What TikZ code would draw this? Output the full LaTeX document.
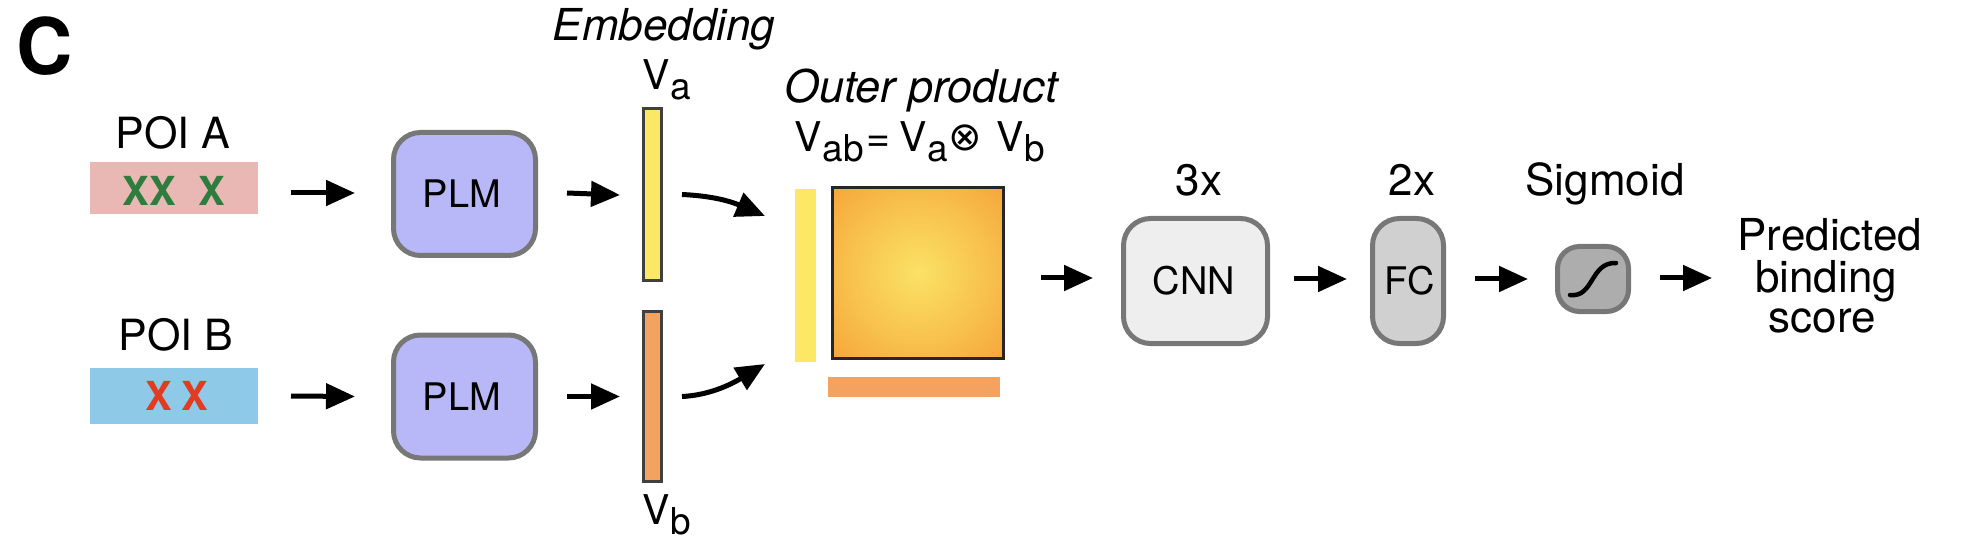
\documentclass[tikz,border=0pt]{standalone}
\usepackage{fontspec}
\setmainfont{TeX Gyre Heros}
\newfontfamily\symfont{DejaVu Sans}
\usetikzlibrary{arrows.meta,calc}
\definecolor{barpink}{HTML}{E9B8B5}
\definecolor{barblue}{HTML}{8EC9E8}
\definecolor{xgreen}{HTML}{2E7D3F}
\definecolor{xred}{HTML}{E23B1F}
\definecolor{plmfill}{HTML}{B8B8F8}
\definecolor{boxline}{HTML}{777777}
\definecolor{vyellow}{HTML}{FDE866}
\definecolor{vorange}{HTML}{F4A25F}
\definecolor{cnnfill}{HTML}{EEEEEE}
\definecolor{fcfill}{HTML}{D0D0D0}
\definecolor{sigfill}{HTML}{ADADAD}
\pgfdeclareradialshading{outerprod}{\pgfpoint{0bp}{0bp}}{%
  rgb(0bp)=(0.984,0.882,0.400);
  rgb(12bp)=(0.973,0.780,0.315);
  rgb(25bp)=(0.961,0.650,0.225);
  rgb(36bp)=(0.945,0.540,0.150);
  rgb(50bp)=(0.945,0.540,0.150)}
\newcommand{\fs}[1]{\fontsize{#1}{#1}\selectfont}
\newcommand{\VV}[1]{{\fs{41}V\kern1pt\raisebox{-10pt}{\fs{37}#1}}}
\tikzset{
  x=1pt,y=-1pt,
  txt/.style={inner sep=0pt,outer sep=0pt,anchor=base,font=\fs{44}},
  seqbar/.style={draw=none,inner sep=0pt,outer sep=0pt,minimum width=168pt},
  mark x/.style={inner sep=0pt,outer sep=0pt,anchor=base,font=\fs{40}\bfseries},
  block/.style={draw=boxline,line width=5pt,rounded corners=27pt,inner sep=0pt,outer sep=2.5pt,font=\fs{38}},
  vecbar/.style={draw=black!75,line width=3pt,inner sep=0pt,outer sep=1.5pt,minimum width=18pt},
  arr/.style={line width=5pt,-{Triangle[length=29pt,width=25pt]}},
  carr/.style={line width=5pt,-{Triangle[length=29pt,width=25pt]}},
}
\begin{document}
\begin{tikzpicture}
\useasboundingbox (0,0) rectangle (1966,540);
\node[inner sep=0pt,anchor=base,font=\fs{78}\bfseries] (panel) at (44.5,75) {C};

% sequences
\node[txt,font=\fs{43}] (poia) at (173,149) {POI A};
\node[seqbar,fill=barpink,minimum height=52pt] (seqa) at (174,188) {};
\node[mark x,text=xgreen] (xa) at (174,206) {XX\kern23pt X};
\node[txt,font=\fs{43}] (poib) at (176,350) {POI B};
\node[seqbar,fill=barblue,minimum height=56pt] (seqb) at (174,396) {};
\node[mark x,text=xred] (xb) at (177,410) {X\kern9pt X};

% PLM
\node[block,fill=plmfill,minimum width=142pt,minimum height=123pt] (plma) at (464.5,194) {\hspace*{-5pt}PLM};
\node[block,fill=plmfill,minimum width=142pt,minimum height=123pt] (plmb) at (464.5,396.5) {\hspace*{-5pt}PLM};

% embeddings
\node[vecbar,fill=vyellow,minimum height=172pt] (va) at (652.5,194.5) {};
\node[vecbar,fill=vorange,minimum height=170pt] (vb) at (652.5,396.5) {};
\node[txt,font=\fs{44}\itshape] (emb) at (664,41) {Embedding};
\node[inner sep=0pt,anchor=base west] (vala) at (642,90) {\VV{a}};
\node[inner sep=0pt,anchor=base west] (vbla) at (642,524) {\VV{b}};

% outer product
\node[txt,font=\fs{45}\itshape] (outer) at (921,103) {Outer product};
\node[inner sep=0pt,anchor=base west] (formula) at (794,152) {\VV{ab}\kern3pt{\fs{41}=}\kern9pt\VV{a}\kern0pt\raisebox{1pt}{\symfont\fs{40}⊗}\kern14pt\VV{b}};
\node[inner sep=0pt,outer sep=0pt,minimum width=21pt,minimum height=173pt,fill=vyellow] (ya) at (805.5,275.5) {};
\begin{scope}
\clip (832.5,187.5) rectangle (1003.5,358.5);
\shade[shading=outerprod] (918,273) circle[radius=121.6];
\end{scope}
\node[draw=black!85,line width=3pt,inner sep=0pt,outer sep=1.5pt,minimum width=171pt,minimum height=171pt] (mat) at (918,273) {};
\node[inner sep=0pt,outer sep=0pt,minimum width=172pt,minimum height=20pt,fill=vorange] (ob) at (914,387) {};

% network
\node[txt] (three) at (1199,196) {3x};
\node[block,fill=cnnfill,minimum width=144pt,minimum height=125pt] (cnn) at (1195.5,281) {\hspace*{-3pt}CNN};
\node[txt] (two) at (1412,196) {2x};
\node[block,fill=fcfill,minimum width=71pt,minimum height=125pt] (fc) at (1408,281) {\hspace*{4pt}FC};
\node[txt] (sigl) at (1605,196) {Sigmoid};
\node[block,fill=sigfill,rounded corners=22pt,minimum width=71pt,minimum height=65pt] (sig) at (1593,279) {};
\draw[line width=4.5pt,line cap=round] (1570,295) .. controls (1594,298) and (1590,262) .. (1616,263);
\node[txt] (p1) at (1830,251) {Predicted};
\node[txt] (p2) at (1826,292) {binding};
\node[txt] (p3) at (1822.5,332) {score};
\coordinate (res) at (1712,278);

% connectors
\draw[arr] ([shift={(33pt,-5pt)}]seqa.east) -- ([shift={(-36pt,1pt)}]plma.west);
\draw[arr] ([xshift=33pt]seqb.east) -- ([xshift=-36pt]plmb.west);
\draw[arr] ([shift={(29pt,1pt)}]plma.east) -- ([shift={(-22pt,-0.5pt)}]va.west);
\draw[arr] ([xshift=29pt]plmb.east) -- ([xshift=-22pt]vb.west);
\coordinate (ta) at (765,216);
\coordinate (tb) at (765,364);
\draw[carr] ([xshift=19pt]va.east) .. controls +(22,1) and +(-40,-17) .. (ta);
\draw[carr] ([xshift=19pt]vb.east) .. controls +(22,-1) and +(-40,24) .. (tb);
\draw[arr] ([shift={(36pt,-5pt)}]mat.east) -- ([shift={(-28pt,3pt)}]cnn.west);
\draw[arr] ([shift={(24pt,2pt)}]cnn.east) -- ([shift={(-23pt,2pt)}]fc.west);
\draw[arr] ([shift={(29pt,2pt)}]fc.east) -- ([xshift=-27pt]sig.west);
\draw[arr] ([shift={(29pt,1pt)}]sig.east) -- (res);
\end{tikzpicture}
\end{document}
